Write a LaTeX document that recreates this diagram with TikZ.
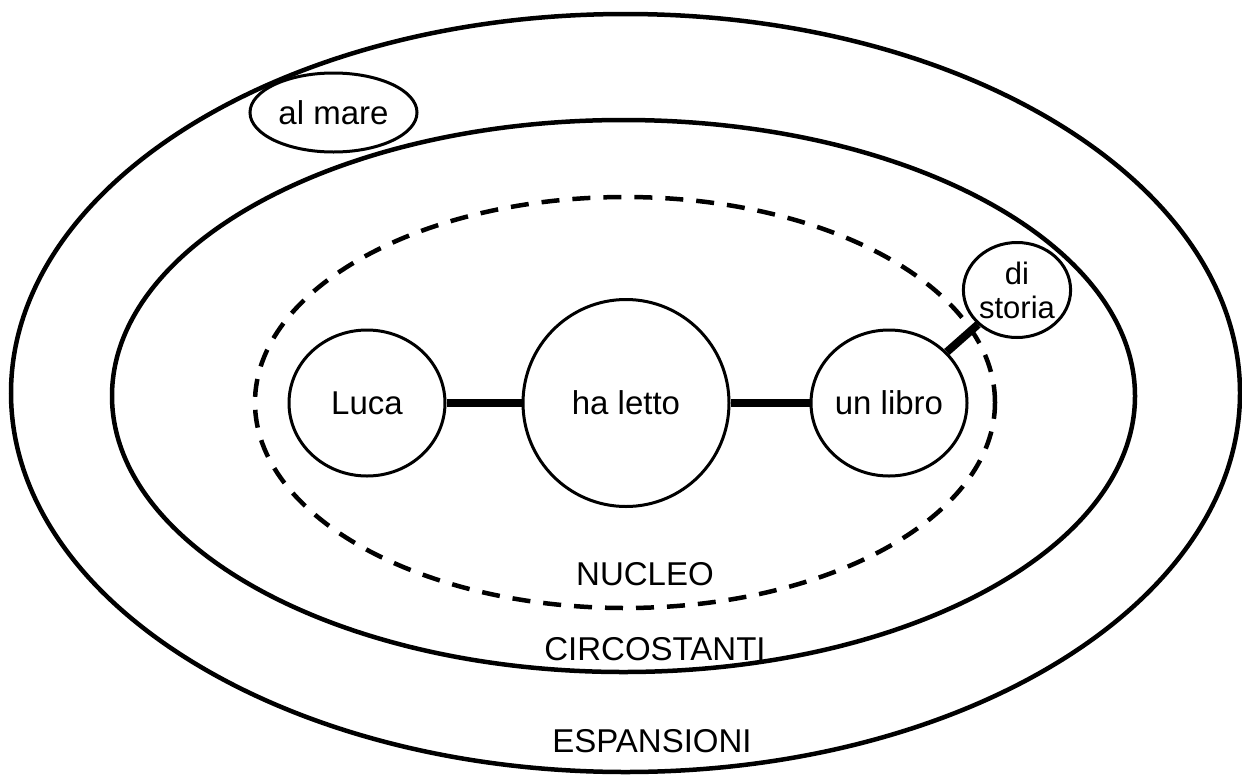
\documentclass[tikz,border=0pt]{standalone}
\usepackage{fontspec}
\setmainfont{Liberation Sans}
\usetikzlibrary{shapes.geometric}
\begin{document}
\begin{tikzpicture}[x=1pt,y=-1pt,
  ring/.style={draw,ellipse,line width=4.5pt,inner sep=0pt},
  word/.style={draw,ellipse,line width=3pt,inner sep=0pt,font=\fontsize{33}{34}\selectfont},
  lbl/.style={anchor=base,inner sep=0pt,font=\fontsize{33}{34}\selectfont},
  link/.style={line width=8pt}]
\useasboundingbox (0,0) rectangle (1242,774);
\node[ring,minimum width=1229,minimum height=758] (outer) at (625.5,393) {};
\node[ring,minimum width=1023,minimum height=552] (middle) at (623.5,396) {};
\node[ring,dash pattern=on 18pt off 13pt,minimum width=740,minimum height=411] (core) at (625,402.5) {};
\node[word,minimum width=167,minimum height=79] (almare) at (333.5,112.5) {al mare};
\node[word,minimum width=156,minimum height=146] (luca) at (367,403) {Luca};
\node[word,minimum width=206,minimum height=207] (haletto) at (626,403) {ha letto};
\node[word,minimum width=91,minimum height=95,align=center,font=\fontsize{31}{34}\selectfont] (distoria) at (1017,290) {di\\storia};
\node[word,minimum width=156,minimum height=146] (unlibro) at (889,403) {un libro};
\draw[link] (luca) -- (haletto);
\draw[link] (haletto) -- (unlibro);
\draw[link] (unlibro) -- (distoria);
\node[lbl] (nucleo) at (645,585) {NUCLEO};
\node[lbl] (circ) at (655,660) {CIRCOSTANTI};
\node[lbl] (esp) at (652,752) {ESPANSIONI};
\end{tikzpicture}
\end{document}
